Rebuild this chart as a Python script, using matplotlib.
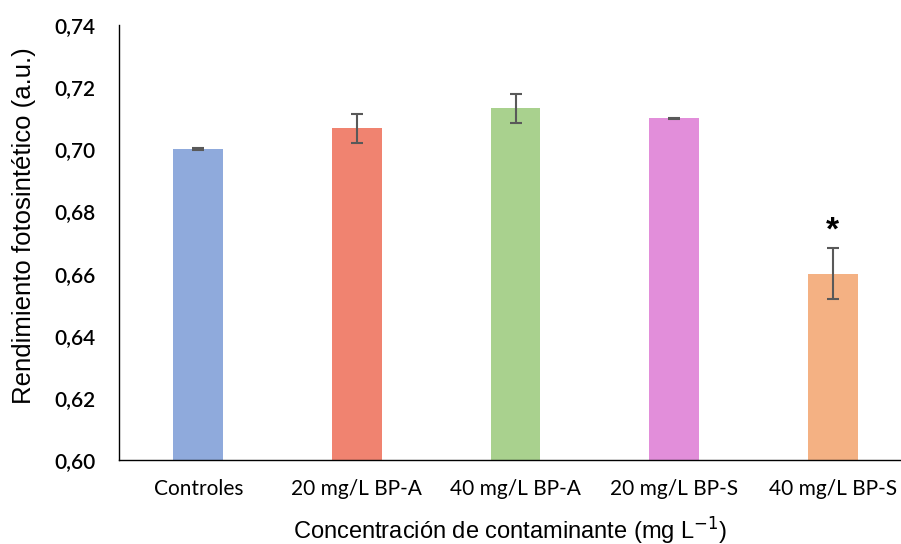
import matplotlib
matplotlib.use("Agg")
import matplotlib.pyplot as plt

plt.rcParams["mathtext.fontset"] = "custom"
plt.rcParams["mathtext.rm"] = "Liberation Sans"
plt.rcParams["mathtext.default"] = "regular"

categories = ["Controles", "20 mg/L BP-A", "40 mg/L BP-A", "20 mg/L BP-S", "40 mg/L BP-S"]
values = [0.700, 0.7067, 0.7132, 0.7100, 0.6600]
errors = [0.0003, 0.0047, 0.0047, 0.0002, 0.0082]
colors = ["#8FAADC", "#F08370", "#A9D18E", "#E28EDA", "#F4B183"]
yticks = [0.60, 0.62, 0.64, 0.66, 0.68, 0.70, 0.72, 0.74]
ytick_labels = ["0,60", "0,62", "0,64", "0,66", "0,68", "0,70", "0,72", "0,74"]

fig = plt.figure(figsize=(9.01, 5.44), dpi=100)
ax = fig.add_axes([119/901, 84/544, 793/901, 435/544])

x = list(range(len(categories)))
ax.bar(x, values, width=0.315, color=colors, zorder=2)
ax.errorbar(x, values, yerr=errors, fmt="none", ecolor="#595959",
            elinewidth=1.5, capsize=4.5, capthick=1.5, zorder=3)
ax.text(x[4], values[4] + errors[4] + 0.0004, "*", ha="center", va="bottom",
        fontsize=24, fontweight="bold", family="Liberation Sans")

ax.set_xlim(-0.5, len(categories) - 0.5)
ax.set_ylim(0.60, 0.74)
ax.set_yticks(yticks)
ax.set_yticklabels(ytick_labels, family="Lato", fontsize=15, fontweight="semibold")
ax.set_xticks(x)
ax.set_xticklabels(categories, family="Lato", fontsize=15)
ax.tick_params(axis="both", length=0, colors="black")
ax.tick_params(axis="y", pad=17)
ax.tick_params(axis="x", pad=14)

for s in ["top", "right"]:
    ax.spines[s].set_visible(False)
for s in ["left", "bottom"]:
    ax.spines[s].set_linewidth(1.0)
    ax.spines[s].set_color("black")

ax.set_ylabel("Rendimiento fotosintético (a.u.)", family="Liberation Sans", fontsize=18.5)
ax.set_xlabel("Concentración de contaminante (mg L$^{\\mathsf{-1}}$)", family="Liberation Sans", fontsize=17)
ax.yaxis.set_label_coords((24 - 119) / 793, (460 - 226) / 435)
ax.yaxis.label.set_va("center")
ax.xaxis.label.set_va("baseline")
ax.xaxis.set_label_coords((510 - 119) / 793, (460 - 539) / 435)

fig.savefig("out.png", dpi=100)
